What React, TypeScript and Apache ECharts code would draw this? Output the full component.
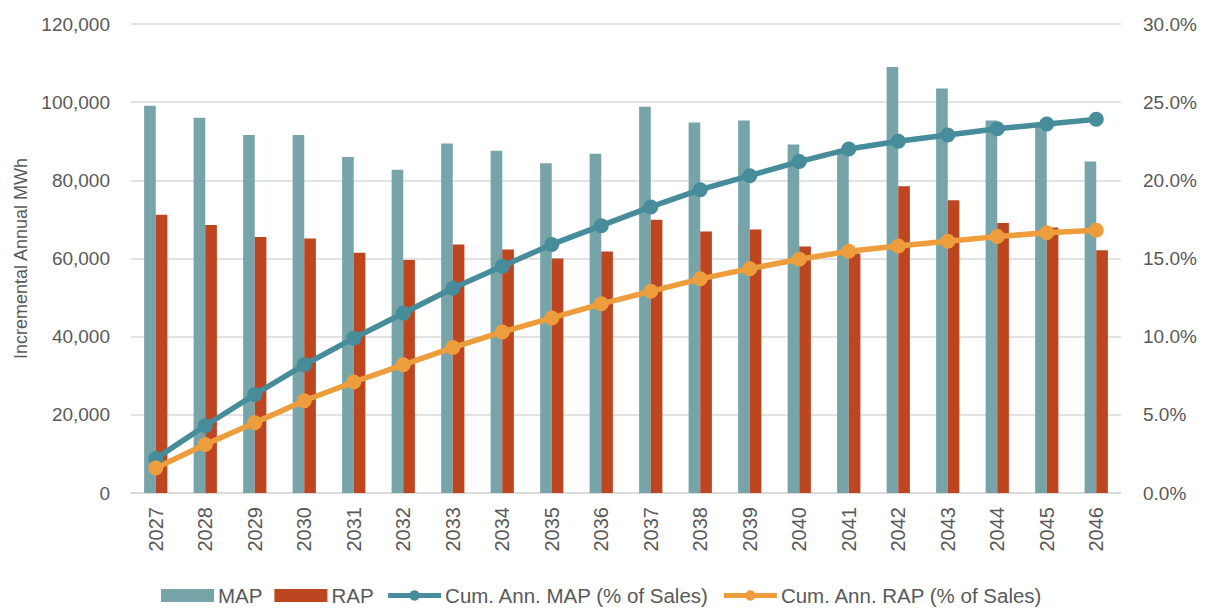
import React, { useEffect, useRef } from "react";
import * as echarts from "echarts";

const years = [
  "2027", "2028", "2029", "2030", "2031", "2032", "2033", "2034", "2035", "2036",
  "2037", "2038", "2039", "2040", "2041", "2042", "2043", "2044", "2045", "2046",
];

// Incremental annual MWh
const mapMWh = [
  99100, 96000, 91600, 91600, 86000, 82700, 89400, 87600, 84400, 86800,
  98800, 94800, 95300, 89200, 88000, 109000, 103500, 95300, 94000, 84800,
];
const rapMWh = [
  71200, 68600, 65500, 65100, 61500, 59600, 63600, 62300, 60000, 61800,
  69900, 66900, 67400, 63100, 61300, 78500, 74900, 69100, 67900, 62100,
];

// Cumulative annual savings, % of sales
const cumMapPct = [
  2.2, 4.3, 6.3, 8.2, 9.9, 11.5, 13.1, 14.5, 15.9, 17.1,
  18.3, 19.4, 20.3, 21.2, 22.0, 22.5, 22.9, 23.3, 23.6, 23.9,
];
const cumRapPct = [
  1.6, 3.1, 4.5, 5.9, 7.1, 8.2, 9.3, 10.3, 11.2, 12.1,
  12.9, 13.7, 14.35, 14.95, 15.46, 15.8, 16.1, 16.4, 16.65, 16.8,
];

const FONT = "'Liberation Sans', Arial, sans-serif";
const TEXT = "#595959";
const GRID = "#D9D9D9";
const MAP_BAR = "#77A4A9";
const RAP_BAR = "#BD451F";
const MAP_LINE = "#478C9B";
const RAP_LINE = "#EE9D3D";

export default function App() {
  const ref = useRef<HTMLDivElement>(null);

  useEffect(() => {
    if (!ref.current) return;
    const chart = echarts.init(ref.current, null, { renderer: "svg" });
    chart.setOption({
      animation: false,
      backgroundColor: "#ffffff",
      textStyle: { fontFamily: FONT },
      grid: { left: 131, right: 87, top: 24, bottom: 117 },
      legend: {
        top: 580,
        left: 156,
        itemWidth: 53,
        itemHeight: 13,
        itemGap: 12,
        textStyle: { fontSize: 20.5, color: TEXT, fontFamily: FONT, padding: [0, 0, 0, -1] },
        data: [
          { name: "MAP", icon: "rect" },
          { name: "RAP", icon: "rect" },
          { name: "Cum. Ann. MAP (% of Sales)", lineStyle: { width: 5 } },
          { name: "Cum. Ann. RAP (% of Sales)", lineStyle: { width: 5 } },
        ],
      },
      xAxis: {
        type: "category",
        data: years,
        axisLine: { lineStyle: { color: GRID, width: 1.5 } },
        axisTick: { show: false },
        axisLabel: {
          rotate: 90,
          margin: 14,
          fontSize: 20,
          color: TEXT,
          fontFamily: FONT,
        },
      },
      yAxis: [
        {
          type: "value",
          min: 0,
          max: 120000,
          interval: 20000,
          name: "Incremental Annual MWh",
          nameLocation: "middle",
          nameGap: 99,
          nameTextStyle: { fontSize: 18, color: TEXT, fontFamily: FONT },
          axisLine: { show: false },
          axisTick: { show: false },
          splitLine: { lineStyle: { color: GRID, width: 1.5 } },
          axisLabel: {
            margin: 21,
            fontSize: 19,
            color: TEXT,
            fontFamily: FONT,
            formatter: (v: number) => v.toLocaleString("en-US"),
          },
        },
        {
          type: "value",
          min: 0,
          max: 30,
          interval: 5,
          axisLine: { show: false },
          axisTick: { show: false },
          splitLine: { show: false },
          axisLabel: {
            margin: 22,
            fontSize: 19,
            color: TEXT,
            fontFamily: FONT,
            formatter: (v: number) => v.toFixed(1) + "%",
          },
        },
      ],
      series: [
        {
          name: "MAP",
          type: "bar",
          data: mapMWh,
          barGap: "0%",
          barCategoryGap: "53%",
          itemStyle: { color: MAP_BAR },
        },
        {
          name: "RAP",
          type: "bar",
          data: rapMWh,
          itemStyle: { color: RAP_BAR },
        },
        {
          name: "Cum. Ann. MAP (% of Sales)",
          type: "line",
          yAxisIndex: 1,
          data: cumMapPct,
          symbol: "circle",
          symbolSize: 15,
          lineStyle: { color: MAP_LINE, width: 5.5 },
          itemStyle: { color: MAP_LINE },
        },
        {
          name: "Cum. Ann. RAP (% of Sales)",
          type: "line",
          yAxisIndex: 1,
          data: cumRapPct,
          symbol: "circle",
          symbolSize: 15,
          lineStyle: { color: RAP_LINE, width: 5.5 },
          itemStyle: { color: RAP_LINE },
        },
      ],
    });
    return () => chart.dispose();
  }, []);

  return (
    <div
      ref={ref}
      style={{ position: "absolute", left: 0, top: 0, width: 1208, height: 610 }}
    />
  );
}
